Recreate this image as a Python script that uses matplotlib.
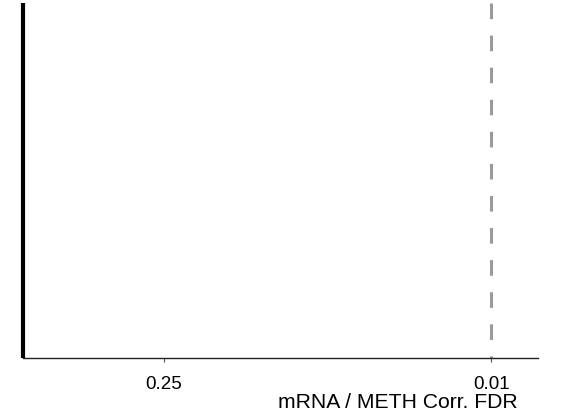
import numpy as np
import matplotlib
matplotlib.use("Agg")
import matplotlib.pyplot as plt

plt.rcParams['font.family'] = ['Liberation Sans', 'DejaVu Sans']

# Data
tick_fdr = [0.25, 0.01]
tick_labels = ["0.25", "0.01"]
threshold_fdr = 0.01
bar_value = 0.0          # -log10(FDR) start of axis (black baseline)
x_max = 2.2              # -log10 scale upper limit
xlabel = "mRNA / METH Corr. FDR"

fig = plt.figure(figsize=(5.65, 4.2), dpi=100)
ax = fig.add_axes([23/565, 1 - 358/420, (538 - 23)/565, (358 - 3)/420])

ax.set_xlim(0, x_max)
ax.set_ylim(0, 1)

ax.axvline(bar_value, color='black', linewidth=3.0, solid_capstyle='butt',
           zorder=3, clip_on=False)
thr = -np.log10(threshold_fdr)
ax.plot([thr, thr], [1, 0], color='#9a9a9a', linewidth=2.2,
        dashes=(5.1, 5.4), dash_capstyle='butt', zorder=2, clip_on=False)

ax.set_xticks([-np.log10(v) for v in tick_fdr])
ax.set_xticklabels(tick_labels, fontsize=13.5)
ax.set_yticks([])
ax.tick_params(axis='x', length=3, width=0.8, color='#555555', pad=10)

for s in ['top', 'right', 'left']:
    ax.spines[s].set_visible(False)
ax.spines['bottom'].set_color('#222222')
ax.spines['bottom'].set_linewidth(1.0)

fig.text(518/565, 1 - 402/420, xlabel, ha='right', va='center', fontsize=15.2)

fig.savefig("out.png", dpi=100)
